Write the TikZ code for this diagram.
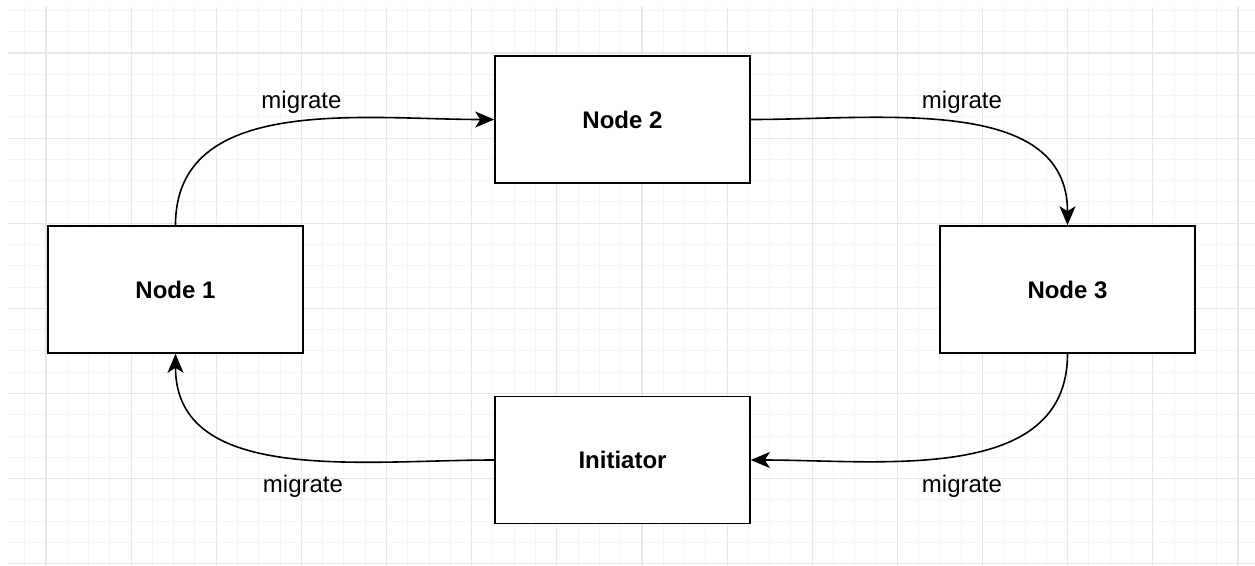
\documentclass[tikz,border=0pt]{standalone}
\usepackage{fontspec}
\setmainfont{Liberation Sans}
\usetikzlibrary{arrows.meta,positioning}
\definecolor{gridminor}{HTML}{F5F5F5}
\definecolor{gridmajor}{HTML}{E7E7E7}

\begin{document}
\begin{tikzpicture}[x=1pt, y=-1pt,
	box/.style={draw, line width=1.6pt, fill=white, minimum width=255pt, minimum height=127pt, font=\fontsize{24}{28}\selectfont\bfseries},
	lbl/.style={anchor=base, inner sep=0pt, font=\fontsize{24}{28}\selectfont},
	link/.style={line width=1.6pt, -{Stealth[length=19pt, width=16pt, inset=5pt]}}]
\useasboundingbox[fill=white] (0,0) rectangle (1255,565);
% grid
\begin{scope}
\clip (8,7) rectangle (1255,565);
\foreach \i in {-2,...,57}{\draw[gridminor, line width=1pt] (46+21.285*\i,0) -- (46+21.285*\i,570);}
\foreach \i in {-2,...,24}{\draw[gridminor, line width=1pt] (0,53+21.285*\i) -- (1260,53+21.285*\i);}
\foreach \i in {0,...,14}{\draw[gridmajor, line width=1.2pt] (46+85.14*\i,0) -- (46+85.14*\i,570);}
\foreach \i in {0,...,6}{\draw[gridmajor, line width=1.2pt] (0,53+85.14*\i) -- (1260,53+85.14*\i);}
\end{scope}
% boxes
\node[box] (n2) at (622.5,119.5) {Node 2};
\node[box] (n1) at (175.5,289.5) {Node 1};
\node[box] (n3) at (1067.5,289.5) {Node 3};
\node[box] (init) at (622.5,460) {Initiator};
% links
\draw[link] (n1.north) to[out=90,in=180] (n2.west);
\draw[link] (n2.east) to[out=0,in=90] (n3.north);
\draw[link] (n3.south) to[out=270,in=0] (init.east);
\draw[link] (init.west) to[out=180,in=270] (n1.south);
\node[lbl] (m12) at (301.5,108) {migrate};
\node[lbl] (m23) at (962,108) {migrate};
\node[lbl] (m3i) at (962,492) {migrate};
\node[lbl] (mi1) at (303,492) {migrate};
\end{tikzpicture}
\end{document}
